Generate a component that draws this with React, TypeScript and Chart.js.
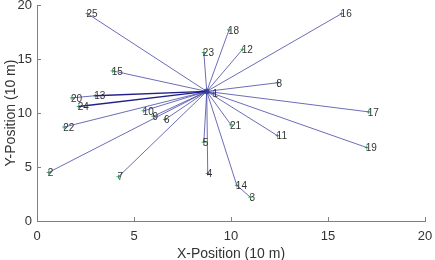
import { useEffect, useRef } from 'react';
import { Chart, registerables } from 'chart.js';

Chart.register(...registerables);

const sinkX = 8.75;
const sinkY = 12;
const nodeLabels = ['1', '2', '3', '4', '5', '6', '7', '8', '9', '10', '11', '12', '13', '14', '15', '16', '17', '18', '19', '20', '21', '22', '23', '24', '25'];
const nodeX = [9.1, 0.6, 11.0, 8.8, 8.6, 6.6, 4.2, 12.4, 6.0, 5.5, 12.4, 10.6, 3.0, 10.3, 3.9, 15.7, 17.1, 9.9, 17.0, 1.8, 10.0, 1.4, 8.6, 2.15, 2.6];
const nodeY = [11.8, 4.5, 2.2, 4.4, 7.3, 9.4, 4.1, 12.8, 9.7, 10.2, 7.9, 15.9, 11.6, 3.3, 13.9, 19.2, 10.1, 17.7, 6.8, 11.4, 8.9, 8.7, 15.6, 10.6, 19.2];
// parent of each node: '' means the sink at the centre
const nodeParent = ['', '', '14', '', '', '', '', '', '', '', '', '', '', '', '', '', '', '', '', '13', '', '', '', '', ''];
const xTickValues = [0, 5, 10, 15, 20];
const yTickValues = [0, 5, 10, 15, 20];

const FONT = "'Liberation Sans', Arial, sans-serif";

export default function App() {
  const ref = useRef<HTMLCanvasElement>(null);
  useEffect(() => {
    document.body.style.margin = '0';
    const canvas = ref.current!;
    const edgeSets = nodeLabels.map((lab, i) => {
      const p = nodeParent[i];
      let px = sinkX, py = sinkY;
      if (p) {
        const j = nodeLabels.indexOf(p);
        px = nodeX[j];
        py = nodeY[j];
      }
      const dark = p === '' && nodeX[i] < 4 && nodeY[i] > 10 && nodeY[i] < 12;
      return {
        type: 'line' as const,
        data: [{ x: px, y: py }, { x: nodeX[i], y: nodeY[i] }],
        borderColor: dark ? 'rgba(20,20,130,0.95)' : 'rgba(60,60,160,0.75)',
        borderWidth: dark ? 1.4 : 1,
        pointRadius: 0,
        showLine: true,
        fill: false,
      };
    });
    const nodeSet = {
      type: 'scatter' as const,
      data: nodeLabels.map((_, i) => ({ x: nodeX[i], y: nodeY[i] })),
      pointStyle: 'cross',
      pointRadius: 2,
      borderColor: '#3aaa5a',
      borderWidth: 1,
      backgroundColor: '#3aaa5a',
    };
    const sinkSet = {
      type: 'scatter' as const,
      data: [{ x: sinkX, y: sinkY }],
      pointStyle: 'rect',
      pointRadius: 3,
      borderColor: '#1a8a5a',
      backgroundColor: '#2040c0',
      borderWidth: 1,
    };

    const overlay = {
      id: 'overlay',
      afterDatasetsDraw(chart: any) {
        const { ctx, scales, chartArea } = chart;
        const xs = scales.x, ys = scales.y;
        ctx.save();
        ctx.strokeStyle = '#808080';
        ctx.lineWidth = 1;
        ctx.beginPath();
        xTickValues.forEach((v) => {
          const px = Math.round(xs.getPixelForValue(v)) + 0.5;
          ctx.moveTo(px, chartArea.bottom);
          ctx.lineTo(px, chartArea.bottom - 4);
        });
        yTickValues.forEach((v) => {
          const py = Math.round(ys.getPixelForValue(v)) + 0.5;
          ctx.moveTo(chartArea.left, py);
          ctx.lineTo(chartArea.left + 4, py);
        });
        ctx.stroke();
        ctx.fillStyle = '#333';
        ctx.font = `10px ${FONT}`;
        ctx.textAlign = 'left';
        ctx.textBaseline = 'middle';
        nodeLabels.forEach((lab, i) => {
          const px = xs.getPixelForValue(nodeX[i]);
          const py = ys.getPixelForValue(nodeY[i]);
          ctx.fillText(lab, px - 1, py + 1);
        });
        ctx.restore();
      },
    };

    const chart = new Chart(canvas, {
      type: 'scatter',
      data: { datasets: [...edgeSets, nodeSet, sinkSet] as any },
      options: {
        animation: false,
        responsive: false,
        layout: { padding: { top: 2, right: 10, left: 0, bottom: 0 } },
        plugins: { legend: { display: false }, tooltip: { enabled: false } },
        scales: {
          x: {
            type: 'linear',
            min: 0,
            max: 20,
            afterBuildTicks: (s: any) => { s.ticks = xTickValues.map((v) => ({ value: v })); },
            afterFit: (s: any) => { s.height = 39; s.paddingLeft = 0; s.paddingRight = 0; },
            grid: { display: false, drawTicks: false },
            border: { display: true, color: '#808080', width: 1 },
            ticks: { color: '#333', font: { family: FONT, size: 13 }, padding: 8, maxRotation: 0 },
            title: { display: true, text: 'X-Position (10 m)', color: '#333', font: { family: FONT, size: 14 }, padding: { top: 0, bottom: -3 } },
          },
          y: {
            type: 'linear',
            min: 0,
            max: 20,
            afterBuildTicks: (s: any) => { s.ticks = yTickValues.map((v) => ({ value: v })); },
            afterFit: (s: any) => { s.width = 37; s.paddingTop = 0; s.paddingBottom = 0; },
            grid: { display: false, drawTicks: false },
            border: { display: true, color: '#808080', width: 1 },
            ticks: { color: '#333', font: { family: FONT, size: 13 }, padding: 5 },
            title: { display: true, text: 'Y-Position (10 m)', color: '#333', font: { family: FONT, size: 14 }, padding: { top: 3, bottom: 0 } },
          },
        },
      },
      plugins: [overlay],
    });
    return () => chart.destroy();
  }, []);
  return (
    <div style={{ position: 'absolute', left: 0, top: 0, width: 435, height: 260 }}>
      <canvas ref={ref} width={435} height={260} style={{ width: 435, height: 260, display: 'block' }} />
    </div>
  );
}
